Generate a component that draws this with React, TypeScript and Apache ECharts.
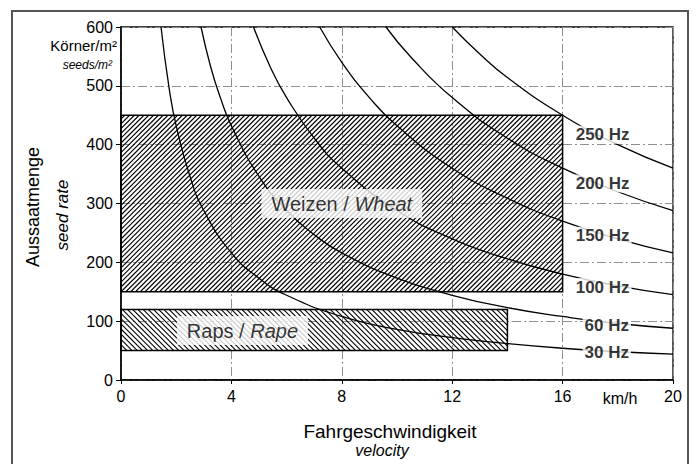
import React, { useEffect, useRef } from "react";
import * as echarts from "echarts";

const FONT = '"Liberation Sans", Arial, Helvetica, sans-serif';

// Axes
const velocityMin = 0;
const velocityMax = 20;
const velocityStep = 4;
const rateMin = 0;
const rateMax = 600;
const rateStep = 100;

// Frequency curves (velocity km/h, seed rate seeds/m²)
const curveNames = ["30 Hz", "60 Hz", "100 Hz", "150 Hz", "200 Hz", "250 Hz"];
const curve30Hz = [[1.45, 600], [1.75, 494], [2, 432], [2.5, 346], [3, 288], [4, 216], [5, 173], [6, 144], [8, 108], [10, 86], [12, 72], [14, 62], [16, 54], [18, 48], [20, 44]];
const curve60Hz = [[2.9, 600], [3.25, 532], [3.6, 480], [4, 432], [5, 346], [6, 288], [7, 247], [8, 216], [10, 173], [12, 144], [14, 123], [16, 108], [18, 96], [20, 88]];
const curve100Hz = [[4.8, 600], [5.4, 533], [6, 480], [7, 411], [8, 360], [10, 288], [12, 240], [14, 206], [16, 180], [18, 160], [20, 145]];
const curve150Hz = [[7.2, 600], [8, 540], [9, 480], [10, 432], [12, 360], [14, 309], [16, 270], [18, 240], [20, 216]];
const curve200Hz = [[9.6, 600], [10.5, 549], [12, 480], [14, 411], [16, 360], [18, 320], [20, 288]];
const curve250Hz = [[12, 600], [13, 554], [14, 514], [16, 450], [18, 400], [20, 360]];
const curves = [curve30Hz, curve60Hz, curve100Hz, curve150Hz, curve200Hz, curve250Hz];

// Where each curve's label sits on it
const curveLabelVelocity = [17.6, 17.6, 17.45, 17.45, 17.45, 17.45];
const curveLabelRate = [46, 93, 158, 245, 334, 417];

// Crop ranges
const cropNames = ["Weizen", "Raps"];
const cropNamesEn = ["Wheat", "Rape"];
const cropVelocityFrom = [0, 0];
const cropVelocityTo = [16, 14];
const cropRateFrom = [150, 50];
const cropRateTo = [450, 120];
const cropHatchDir = [0, 1]; // 0 = "/", 1 = "\"
const cropLabelVelocity = [8, 4.4];
const cropLabelRate = [300, 84];

export default function App() {
  const ref = useRef<HTMLDivElement>(null);

  useEffect(() => {
    if (!ref.current) return;
    const chart = echarts.init(ref.current, null, { renderer: "svg" });

    const gridLine = { color: "#8f8f8f", width: 1, type: [9, 3, 2, 3] as any };

    const hatchSeries = {
      type: "custom",
      z: 1,
      clip: false,
      silent: true,
      data: cropNames.map((_, i) => [cropVelocityFrom[i], cropVelocityTo[i], cropRateFrom[i], cropRateTo[i], cropHatchDir[i]]),
      encode: { x: [0, 1], y: [2, 3] },
      renderItem: (params: any, api: any) => {
        const x0 = api.value(0), x1 = api.value(1), y0 = api.value(2), y1 = api.value(3), dir = api.value(4);
        const p0 = api.coord([x0, y1]);
        const p1 = api.coord([x1, y0]);
        const L = p0[0], T = p0[1], R = p1[0], B = p1[1];
        const children: any[] = [];
        const st = { stroke: "#000", lineWidth: 1.1 };
        if (dir === 0) {
          const s = 4.8;
          for (let c = Math.floor((L + T) / s) * s; c <= R + B; c += s) {
            const xa = Math.max(L, c - B), xb = Math.min(R, c - T);
            if (xb - xa > 0.3) children.push({ type: "line", shape: { x1: xa, y1: c - xa, x2: xb, y2: c - xb }, style: st });
          }
        } else {
          const s = 5.2;
          for (let c = Math.floor((L - B) / s) * s; c <= R - T; c += s) {
            const xa = Math.max(L, c + T), xb = Math.min(R, c + B);
            if (xb - xa > 0.3) children.push({ type: "line", shape: { x1: xa, y1: xa - c, x2: xb, y2: xb - c }, style: st });
          }
        }
        children.push({ type: "rect", shape: { x: L, y: T, width: R - L, height: B - T }, style: { fill: "none", stroke: "#000", lineWidth: 1.5 } });
        return { type: "group", children };
      },
    };

    const curveSeries = curves.map((data, i) => ({
      name: curveNames[i],
      type: "line",
      data,
      smooth: true,
      symbol: "none",
      z: 3,
      silent: true,
      lineStyle: { color: "#000", width: 1.3 },
    }));

    const curveLabelSeries = {
      type: "scatter",
      z: 6,
      silent: true,
      symbolSize: 1,
      itemStyle: { color: "rgba(0,0,0,0)" },
      data: curveNames.map((n, i) => ({ name: n, value: [curveLabelVelocity[i], curveLabelRate[i]] })),
      label: {
        show: true,
        position: "inside",
        formatter: "{b}",
        fontFamily: FONT,
        fontWeight: "bold",
        fontSize: 17,
        color: "#000",
        backgroundColor: "#fff",
        padding: [1, 2, 0, 2],
      },
    };

    const cropLabelSeries = {
      type: "scatter",
      z: 6,
      silent: true,
      symbolSize: 1,
      itemStyle: { color: "rgba(0,0,0,0)" },
      data: cropNames.map((n, i) => ({ name: n, value: [cropLabelVelocity[i], cropLabelRate[i]] })),
      label: {
        show: true,
        position: "inside",
        formatter: (p: any) => `{n|${p.name} / }{i|${cropNamesEn[p.dataIndex]}}`,
        backgroundColor: "#fff",
        padding: [5, 10, 4, 10],
        rich: {
          n: { fontFamily: FONT, fontSize: 20, color: "#000" },
          i: { fontFamily: FONT, fontSize: 20, fontStyle: "italic", color: "#000" },
        },
      },
    };

    chart.setOption({
      animation: false,
      backgroundColor: "#fff",
      grid: {
        left: 121,
        right: 23,
        top: 27,
        bottom: 84,
        show: true,
        borderColor: "#000",
        borderWidth: 1.3,
        backgroundColor: "transparent",
      },
      xAxis: {
        type: "value",
        min: velocityMin,
        max: velocityMax,
        interval: velocityStep,
        axisLine: { show: true, onZero: false, lineStyle: { color: "#000", width: 1.5 } },
        axisTick: { show: true, length: 4, lineStyle: { color: "#000" } },
        axisLabel: { fontFamily: FONT, fontSize: 16, color: "#000", margin: 8 },
        splitLine: { show: true, lineStyle: gridLine },
      },
      yAxis: {
        type: "value",
        min: rateMin,
        max: rateMax,
        interval: rateStep,
        axisLine: { show: true, onZero: false, lineStyle: { color: "#000", width: 1.5 } },
        axisTick: { show: true, length: 5, lineStyle: { color: "#000" } },
        axisLabel: { fontFamily: FONT, fontSize: 16, color: "#000", margin: 8 },
        splitLine: { show: true, lineStyle: gridLine },
      },
      graphic: [
        { type: "rect", z: 0, silent: true, shape: { x: 12, y: 11, width: 676, height: 470 }, style: { fill: "none", stroke: "#555", lineWidth: 2 } },
        { type: "text", x: 33, y: 207, rotation: Math.PI / 2, style: { text: "Aussaatmenge", font: `18px ${FONT}`, fill: "#000", align: "center", verticalAlign: "middle" } },
        { type: "text", x: 62, y: 215, rotation: Math.PI / 2, style: { text: "seed rate", font: `italic 17px ${FONT}`, fill: "#000", align: "center", verticalAlign: "middle" } },
        { type: "text", x: 117, y: 45, style: { text: "Körner/m²", font: `15px ${FONT}`, fill: "#000", align: "right", verticalAlign: "middle" } },
        { type: "text", x: 112, y: 65, style: { text: "seeds/m²", font: `italic 12px ${FONT}`, fill: "#000", align: "right", verticalAlign: "middle" } },
        { type: "text", x: 620, y: 398, style: { text: "km/h", font: `16px ${FONT}`, fill: "#000", align: "center", verticalAlign: "middle" } },
        { type: "text", x: 390, y: 431, style: { text: "Fahrgeschwindigkeit", font: `19px ${FONT}`, fill: "#000", align: "center", verticalAlign: "middle" } },
        { type: "text", x: 382, y: 450, style: { text: "velocity", font: `italic 16px ${FONT}`, fill: "#000", align: "center", verticalAlign: "middle" } },
      ],
      series: [hatchSeries, ...curveSeries, curveLabelSeries, cropLabelSeries],
    } as any);

    return () => chart.dispose();
  }, []);

  return <div ref={ref} style={{ position: "absolute", left: 0, top: 0, width: 696, height: 464 }} />;
}
